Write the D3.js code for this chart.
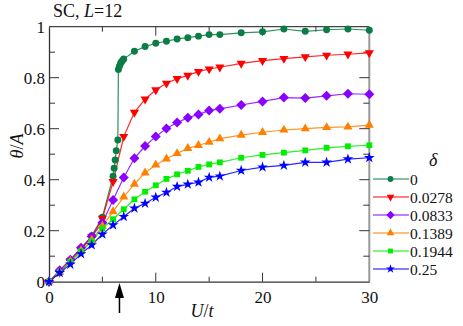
<!DOCTYPE html>
<html><head><meta charset="utf-8">
<script src="https://cdn.jsdelivr.net/npm/d3@7/dist/d3.min.js"></script>
<style>body{margin:0;background:#fff}svg{display:block}text{font-family:"Liberation Serif","DejaVu Serif",serif;fill:#111}</style>
</head><body><svg id="c" width="463" height="326"></svg>
<script>
const deltaLabels = ["0","0.0278","0.0833","0.1389","0.1944","0.25"];
const colors = ["#0a7d45","#ff0000","#8a00ff","#ff8000","#00ee00","#0000ff"];
const U_common = [0,1,2,3,4,5,6,7,8,9,10,11,12,13,14,15,16,18,20,22,24,26,28,30];
const U_d0 = [0,1,2,3,4,5,6.0,6.1,6.2,6.3,6.45,6.5,6.6,6.7,6.8,6.9,7,8,9,10,11,12,13,14,15,16,18,20,22,24,26,28,30];
const v_d0 = [0,0.04,0.085,0.128,0.18,0.253,0.414,0.445,0.477,0.514,0.556,0.832,0.845,0.856,0.863,0.868,0.873,0.904,0.922,0.935,0.943,0.952,0.957,0.963,0.969,0.969,0.976,0.980,0.991,0.982,0.988,0.991,0.986];
const v_d1 = [0,0.037,0.082,0.127,0.176,0.248,0.392,0.569,0.664,0.716,0.752,0.778,0.796,0.809,0.824,0.834,0.841,0.856,0.867,0.875,0.882,0.888,0.892,0.897];
const v_d2 = [0,0.045,0.086,0.133,0.177,0.231,0.320,0.409,0.484,0.532,0.569,0.601,0.624,0.643,0.656,0.671,0.678,0.693,0.707,0.722,0.720,0.729,0.737,0.735];
const v_d3 = [0,0.038,0.080,0.122,0.163,0.218,0.275,0.333,0.383,0.427,0.458,0.482,0.503,0.523,0.535,0.547,0.561,0.575,0.586,0.595,0.600,0.605,0.607,0.614];
const v_d4 = [0,0.037,0.078,0.118,0.158,0.209,0.245,0.284,0.323,0.353,0.378,0.403,0.421,0.435,0.450,0.460,0.468,0.486,0.497,0.506,0.515,0.525,0.531,0.535];
const v_d5 = [0,0.035,0.068,0.109,0.144,0.186,0.222,0.255,0.288,0.307,0.331,0.350,0.373,0.382,0.390,0.409,0.414,0.436,0.449,0.456,0.468,0.468,0.481,0.486];
const xTicks = [0,10,20,30];
const yTicks = [0,0.2,0.4,0.6,0.8,1];
const arrowU = 6.6;

const series = [
  {x:U_d0, y:v_d0}, {x:U_common, y:v_d1}, {x:U_common, y:v_d2},
  {x:U_common, y:v_d3}, {x:U_common, y:v_d4}, {x:U_common, y:v_d5}
];
const symTypes = [d3.symbolCircle, d3.symbolTriangle, d3.symbolSquare, d3.symbolTriangle, d3.symbolSquare, d3.symbolStar];
const symSizes = [38, 36, 50, 36, 34, 36];
const symRot = [0, 180, 45, 0, 0, 0];

const svg = d3.select("#c");
const L=49, R=369.3, T=26.7, B=281.7;
const x = d3.scaleLinear().domain([0,30]).range([L,R]);
const y = d3.scaleLinear().domain([0,1]).range([B,T]);

// frame
svg.append("line").attr("x1",L).attr("x2",R).attr("y1",T).attr("y2",T).attr("stroke","#444").attr("stroke-width",1.3);
svg.append("line").attr("x1",R).attr("x2",R).attr("y1",T).attr("y2",B).attr("stroke","#999").attr("stroke-width",2);

// bottom axis
const xa = svg.append("g").attr("transform",`translate(0,${B})`)
  .call(d3.axisBottom(x).tickValues(xTicks).tickSize(0).tickPadding(9).tickFormat(d3.format("d")));
xa.select(".domain").attr("stroke","#333").attr("stroke-width",1.3);
xa.selectAll("text").attr("font-size",17).attr("fill","#111");
// left axis
const ya = svg.append("g").attr("transform",`translate(${L},0)`)
  .call(d3.axisLeft(y).tickValues(yTicks).tickSize(0).tickPadding(4).tickFormat(d=>d===0||d===1?d3.format("d")(d):d3.format(".1f")(d)));
ya.select(".domain").attr("stroke","#333").attr("stroke-width",1.3);
ya.selectAll("text").attr("font-size",17).attr("fill","#111");

// inward ticks
const tg = svg.append("g").attr("stroke","#333").attr("stroke-width",1);
d3.range(0,31,5).forEach(u=>{
  const major = u%10===0; const len = major?9:5;
  if(u>0 && u<30){
    tg.append("line").attr("x1",x(u)).attr("x2",x(u)).attr("y1",B).attr("y2",B-len);
    tg.append("line").attr("x1",x(u)).attr("x2",x(u)).attr("y1",T).attr("y2",T+len);
  }
});
d3.range(1,10).forEach(i=>{
  const v=i/10; const major = i%2===0; const len = major?10:6;
  tg.append("line").attr("x1",L).attr("x2",L+len).attr("y1",y(v)).attr("y2",y(v));
  tg.append("line").attr("x1",R).attr("x2",R-len).attr("y1",y(v)).attr("y2",y(v));
});

// lines and markers
const line = d3.line().x(d=>x(d[0])).y(d=>y(d[1]));
series.forEach((s,i)=>{
  const pts = s.x.map((u,k)=>[u,s.y[k]]);
  svg.append("path").datum(pts).attr("d",line).attr("fill","none")
    .attr("stroke",colors[i]).attr("stroke-width",1.2).attr("stroke-opacity",0.85);
});
series.forEach((s,i)=>{
  const pts = s.x.map((u,k)=>[u,s.y[k]]);
  const sym = d3.symbol().type(symTypes[i]).size(symSizes[i]);
  svg.append("g").selectAll("path").data(pts).join("path")
    .attr("d",sym)
    .attr("transform",d=>`translate(${x(d[0])},${y(d[1])}) rotate(${symRot[i]})`)
    .attr("fill",colors[i]);
});

// arrow
const ax = x(arrowU);
svg.append("line").attr("x1",ax).attr("x2",ax).attr("y1",293).attr("y2",313).attr("stroke","#000").attr("stroke-width",1.5);
svg.append("path").attr("d",`M${ax},283 L${ax-4.5},298 L${ax+4.5},298 Z`).attr("fill","#000");

// axis titles
const xt = svg.append("text").attr("x",202).attr("y",317).attr("font-size",18).attr("text-anchor","middle");
xt.append("tspan").attr("font-style","italic").text("U");
xt.append("tspan").text("/");
xt.append("tspan").attr("font-style","italic").text("t");
const ytl = svg.append("text").attr("transform","translate(23,146) rotate(-90)").attr("font-size",18).attr("text-anchor","middle");
ytl.append("tspan").attr("font-style","italic").text("θ");
ytl.append("tspan").text("/");
ytl.append("tspan").attr("font-style","italic").text("A");

// title
const tt = svg.append("text").attr("x",53).attr("y",17).attr("font-size",18);
tt.append("tspan").text("SC, ");
tt.append("tspan").attr("font-style","italic").text("L");
tt.append("tspan").text("=12");

// legend
svg.append("text").attr("x",429).attr("y",166).attr("font-size",18).attr("font-style","italic").text("δ");
deltaLabels.forEach((lab,i)=>{
  const yy = 179 + 18*i;
  svg.append("line").attr("x1",373).attr("x2",409).attr("y1",yy).attr("y2",yy).attr("stroke",colors[i]).attr("stroke-width",1.2);
  svg.append("path").attr("d",d3.symbol().type(symTypes[i]).size(symSizes[i]*0.7))
    .attr("transform",`translate(390.5,${yy}) rotate(${symRot[i]})`).attr("fill",colors[i]);
  svg.append("text").attr("x",410).attr("y",yy+5.5).attr("font-size",15.5).text(lab);
});
</script></body></html>
